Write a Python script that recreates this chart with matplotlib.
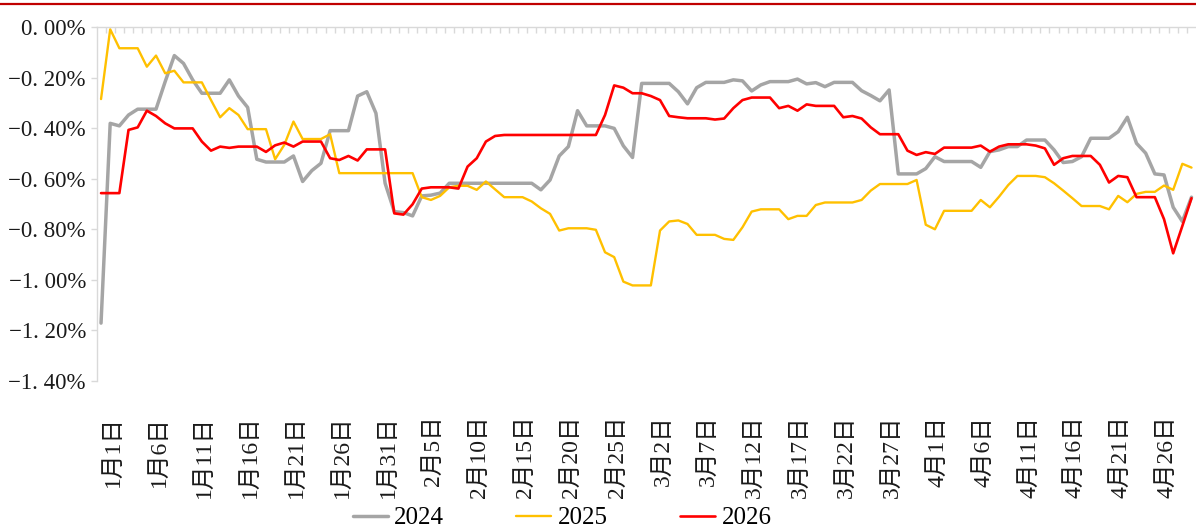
import matplotlib
matplotlib.use("Agg")
import matplotlib.pyplot as plt
import matplotlib.transforms as mtransforms
from matplotlib.ticker import FixedLocator, FuncFormatter

# ---------------- data (percent) ----------------
series_names = ["2024", "2025", "2026"]

values_2024 = [
    -1.171, -0.381, -0.391, -0.348, -0.325, -0.325, -0.325, -0.216, -0.113, -0.144,
    -0.209, -0.262, -0.262, -0.262, -0.209, -0.273, -0.318, -0.523, -0.534, -0.534,
    -0.534, -0.510, -0.611, -0.568, -0.539, -0.410, -0.410, -0.410, -0.273, -0.256,
    -0.341, -0.618, -0.730, -0.734, -0.747, -0.668, -0.665, -0.657, -0.618, -0.618,
    -0.618, -0.618, -0.618, -0.618, -0.618, -0.618, -0.618, -0.618, -0.644, -0.605,
    -0.510, -0.473, -0.331, -0.391, -0.391, -0.391, -0.401, -0.470, -0.516, -0.223,
    -0.223, -0.223, -0.223, -0.256, -0.304, -0.240, -0.219, -0.219, -0.219, -0.209,
    -0.213, -0.253, -0.229, -0.216, -0.216, -0.216, -0.206, -0.225, -0.220, -0.236,
    -0.219, -0.219, -0.219, -0.252, -0.271, -0.292, -0.249, -0.581, -0.581, -0.581,
    -0.560, -0.513, -0.532, -0.532, -0.532, -0.532, -0.555, -0.493, -0.486, -0.473,
    -0.473, -0.447, -0.447, -0.447, -0.486, -0.536, -0.532, -0.513, -0.440, -0.440,
    -0.440, -0.414, -0.357, -0.460, -0.499, -0.581, -0.585, -0.713, -0.769, -0.673,
]

values_2025 = [
    -0.285, -0.009, -0.084, -0.084, -0.084, -0.157, -0.113, -0.183, -0.173, -0.219,
    -0.219, -0.219, -0.289, -0.357, -0.321, -0.348, -0.404, -0.404, -0.404, -0.523,
    -0.466, -0.374, -0.443, -0.443, -0.443, -0.424, -0.578, -0.578, -0.578, -0.578,
    -0.578, -0.578, -0.578, -0.578, -0.578, -0.673, -0.684, -0.668, -0.634, -0.628,
    -0.628, -0.644, -0.611, -0.642, -0.673, -0.673, -0.673, -0.690, -0.717, -0.739,
    -0.805, -0.796, -0.796, -0.796, -0.802, -0.891, -0.910, -1.007, -1.022, -1.022,
    -1.022, -0.805, -0.769, -0.765, -0.779, -0.822, -0.822, -0.822, -0.838, -0.842,
    -0.792, -0.730, -0.721, -0.721, -0.721, -0.760, -0.747, -0.747, -0.704, -0.694,
    -0.694, -0.694, -0.694, -0.684, -0.647, -0.621, -0.621, -0.621, -0.621, -0.605,
    -0.782, -0.800, -0.727, -0.727, -0.727, -0.727, -0.684, -0.713, -0.671, -0.625,
    -0.589, -0.589, -0.589, -0.594, -0.618, -0.647, -0.677, -0.708, -0.708, -0.708,
    -0.721, -0.668, -0.693, -0.660, -0.652, -0.652, -0.627, -0.644, -0.541, -0.556,
]

values_2026 = [
    -0.657, -0.657, -0.657, -0.407, -0.397, -0.331, -0.352, -0.381, -0.401, -0.401,
    -0.401, -0.453, -0.489, -0.473, -0.478, -0.473, -0.473, -0.473, -0.494, -0.468,
    -0.457, -0.473, -0.453, -0.453, -0.453, -0.519, -0.526, -0.510, -0.528, -0.484,
    -0.484, -0.484, -0.737, -0.742, -0.701, -0.639, -0.634, -0.634, -0.634, -0.639,
    -0.552, -0.519, -0.453, -0.431, -0.427, -0.427, -0.427, -0.427, -0.427, -0.427,
    -0.427, -0.427, -0.427, -0.427, -0.427, -0.348, -0.231, -0.240, -0.262, -0.262,
    -0.273, -0.289, -0.352, -0.357, -0.361, -0.361, -0.361, -0.366, -0.362, -0.321,
    -0.289, -0.279, -0.279, -0.279, -0.321, -0.312, -0.331, -0.306, -0.312, -0.312,
    -0.312, -0.357, -0.352, -0.362, -0.397, -0.424, -0.424, -0.424, -0.489, -0.506,
    -0.495, -0.502, -0.477, -0.477, -0.477, -0.477, -0.469, -0.493, -0.473, -0.464,
    -0.464, -0.464, -0.469, -0.480, -0.545, -0.519, -0.510, -0.510, -0.510, -0.545,
    -0.615, -0.589, -0.594, -0.673, -0.673, -0.673, -0.760, -0.895, -0.787, -0.677,
]

tick_labels = [
    "1月1日", "1月6日", "1月11日", "1月16日", "1月21日", "1月26日", "1月31日",
    "2月5日", "2月10日", "2月15日", "2月20日", "2月25日",
    "3月2日", "3月7日", "3月12日", "3月17日", "3月22日", "3月27日",
    "4月1日", "4月6日", "4月11日", "4月16日", "4月21日", "4月26日",
]
y_ticks = [0.0, -0.2, -0.4, -0.6, -0.8, -1.0, -1.2, -1.4]

colors = ["#A5A5A5", "#FFC000", "#FF0000"]
widths = [2.5, 1.7, 1.9]

# ---------------- figure ----------------
W, H, DPI = 1196, 531, 100
fig = plt.figure(figsize=(W / DPI, H / DPI), dpi=DPI)
ax = fig.add_axes([97 / W, 1 - 381 / H, 1 - 97 / W, (381 - 27) / H])

serif = "Liberation Serif"
cjk_family = ["Liberation Serif", "Noto Sans CJK SC"]

n = len(values_2024)
x = list(range(n))
lines = []
for name, vals, c, lw in zip(series_names, [values_2024, values_2025, values_2026], colors, widths):
    ln, = ax.plot(x, vals, color=c, lw=lw, solid_joinstyle="round", solid_capstyle="round", label=name)
    lines.append(ln)

ax.set_xlim(-0.44, n - 0.51)
ax.set_ylim(-1.4, 0.0)

# spines
for s in ["bottom", "right"]:
    ax.spines[s].set_visible(False)
for s in ["top", "left"]:
    ax.spines[s].set_color("#D9D9D9")
    ax.spines[s].set_linewidth(1.0)

# y axis
ax.yaxis.set_major_locator(FixedLocator(y_ticks))

def pct(v, pos):
    s = f"{abs(v):.2f}".replace(".", ". ") + "%"
    return ("−" + s) if v < -1e-9 else s

ax.yaxis.set_major_formatter(FuncFormatter(pct))
ax.tick_params(axis="y", which="major", direction="out", length=4, width=1,
               color="#D9D9D9", pad=4, labelsize=16.5, labelcolor="#1a1a1a")
for lab in ax.get_yticklabels():
    lab.set_family(serif)

# x axis: boundary ticks on top spine, labels at bottom
ax.xaxis.set_minor_locator(FixedLocator([i + 0.5 for i in range(-1, n)]))
ax.set_xticks(list(range(0, n, 5)))
ax.set_xticklabels(tick_labels, rotation=90, va="top", ha="center",
                   family=cjk_family, fontsize=17, color="#1a1a1a")
ax.tick_params(axis="x", which="major", bottom=True, top=False, length=0, pad=25)
ax.tick_params(axis="x", which="minor", bottom=False, top=True, direction="in",
               length=4, width=1, color="#D9D9D9")
offset = mtransforms.ScaledTranslation(12 / DPI, 0, fig.dpi_scale_trans)
for lab in ax.get_xticklabels():
    lab.set_transform(lab.get_transform() + offset)

# top red rule
fig.add_artist(plt.Line2D([0, 1], [1 - 3.7 / H, 1 - 3.7 / H], transform=fig.transFigure,
                          color="#C00000", lw=1.6))

# legend
fig.legend(lines, series_names, loc="center", bbox_to_anchor=(0.470, 1 - 518 / H),
           ncol=3, frameon=False, prop={"family": serif, "size": 18},
           handlelength=1.4, handletextpad=0.25, columnspacing=2.9)

fig.savefig("out.png", dpi=DPI)
